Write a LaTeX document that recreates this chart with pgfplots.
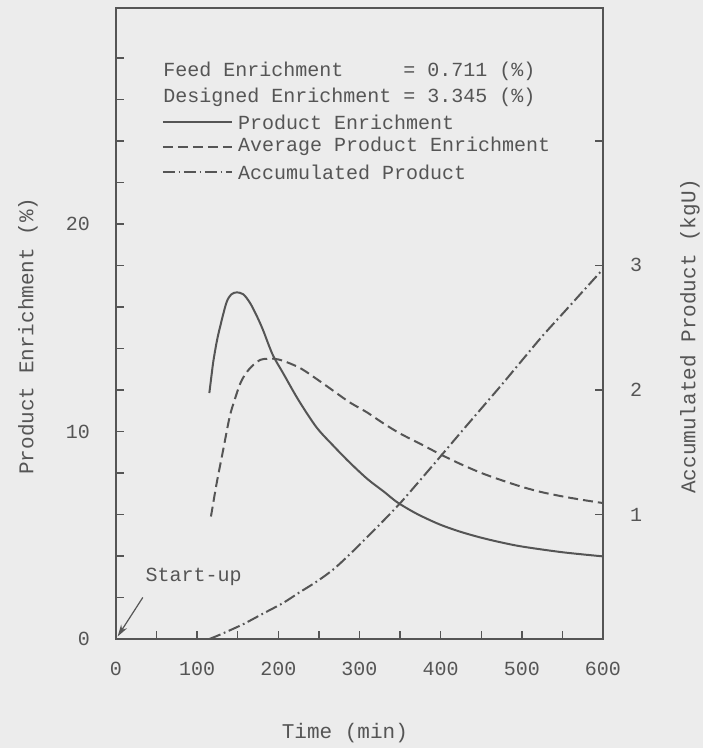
\documentclass[border=0pt]{standalone}
\usepackage{fontspec}
\setmainfont{Liberation Mono}
\usepackage{pgfplots}
\pgfplotsset{compat=1.18}
\usetikzlibrary{backgrounds,arrows.meta}

\definecolor{ink}{RGB}{85,85,85}
\definecolor{paper}{RGB}{236,236,236}

\tikzset{
  prod/.style={ink, line width=1pt},
  avg/.style={ink, line width=1pt, dash pattern=on 5pt off 2.5pt},
  accu/.style={ink, line width=1pt, dash pattern=on 6pt off 1.8pt on 0.9pt off 1.8pt},
}
\pgfplotsset{
  every axis/.append style={
    scale only axis, width=243.5pt, height=315.5pt,
    xmin=0, xmax=600,
    axis line style={ink, line width=0.8pt},
    every tick/.style={ink, line width=0.7pt},
    tick align=inside,
    major tick length=4pt, minor tick length=4pt,
    /pgf/number format/assume math mode=true,
    ticklabel style={font=\fontsize{10}{12}\selectfont, text=ink},
    label style={font=\fontsize{10.5}{12}\selectfont, text=ink},
  },
}

\begin{document}
\begin{tikzpicture}[font=\fontsize{10}{12}\selectfont, text=ink]

\begin{axis}[
    ymin=0, ymax=30.4,
    xtick={0,100,...,600}, minor xtick={50,150,...,550},
    ytick={0,10,20}, minor ytick={2,4,...,28},
    xtick pos=bottom, ytick pos=left,
    yticklabel style={xshift=-9.5pt},
    xticklabel style={yshift=-8pt},
    xlabel={Time (min)},
    ylabel={Product Enrichment (\%)},
    xlabel style={at={(axis description cs:0.47,-0.149)}, anchor=center},
    ylabel style={at={(axis description cs:-0.181,0.48)}, anchor=center},
]
\coordinate (sw) at (rel axis cs:0,0);
\coordinate (ne) at (rel axis cs:1,1);

% product enrichment
\addplot[prod, smooth, tension=0.5] coordinates {
  (115,11.85) (118,12.8) (120,13.4) (124,14.3) (128,15.0) (136,16.2)
  (142,16.6) (149,16.7) (157,16.6) (165,16.2) (173,15.6) (181,14.9)
  (193,13.7) (206,12.8) (225,11.5) (247,10.2) (268,9.3) (288,8.5)
  (310,7.7) (330,7.1) (346,6.6) (365,6.15) (380,5.85) (400,5.5)
  (424,5.17) (450,4.88) (475,4.65) (501,4.45) (550,4.18) (600,3.98)
};
% average product enrichment
\addplot[avg, smooth, tension=0.5] coordinates {
  (117,5.9) (124,7.5) (132,9.1) (140,10.7) (146,11.5) (153,12.3)
  (160,12.8) (169,13.2) (178,13.45) (186,13.5) (195,13.5) (206,13.4)
  (227,13.05) (250,12.45) (268,11.95) (288,11.4) (310,10.9) (329,10.4)
  (350,9.9) (375,9.4) (401,8.87) (425,8.42) (450,8.0) (475,7.65)
  (501,7.32) (525,7.07) (550,6.87) (575,6.7) (600,6.55)
};

% legend block
\node[anchor=west, inner sep=0pt] at (rel axis cs:0.0965,0.899) {Feed Enrichment\ \ \ \ \ = 0.711 (\%)};
\node[anchor=west, inner sep=0pt] at (rel axis cs:0.0965,0.859) {Designed Enrichment = 3.345 (\%)};
\draw[prod] (rel axis cs:0.0965,0.819) -- (rel axis cs:0.238,0.819);
\node[anchor=west, inner sep=0pt] at (rel axis cs:0.25,0.819) {Product Enrichment};
\draw[avg] (rel axis cs:0.0965,0.780) -- (rel axis cs:0.238,0.780);
\node[anchor=west, inner sep=0pt] at (rel axis cs:0.25,0.780) {Average Product Enrichment};
\draw[accu] (rel axis cs:0.0965,0.740) -- (rel axis cs:0.238,0.740);
\node[anchor=west, inner sep=0pt] at (rel axis cs:0.25,0.740) {Accumulated Product};

% start-up annotation
\node[anchor=west, inner sep=0pt] at (axis cs:36,3.0) {Start-up};
\draw[ink, line width=0.6pt, -{Stealth[length=6pt,width=3.5pt]}] (axis cs:33,2.0) -- (axis cs:2,0.12);
\end{axis}

\begin{axis}[
    ymin=0, ymax=5.0667,
    axis y line*=right, axis x line=none,
    ytick={1,2,3,4}, yticklabels={1,2,3,{}},
    yticklabel style={xshift=10pt},
    ylabel={Accumulated Product (kgU)},
    ylabel style={at={(axis description cs:1.1786,0.48)}, anchor=center},
]
% accumulated product
\addplot[accu, smooth, tension=0.5] coordinates {
  (115,0.0) (130,0.04) (157,0.12) (180,0.2) (206,0.29) (225,0.37)
  (247,0.46) (268,0.56) (288,0.68) (305,0.79) (325,0.92) (350,1.09)
  (374,1.27) (399,1.46) (425,1.66) (450,1.85) (475,2.04) (498,2.22)
  (525,2.43) (550,2.61) (575,2.79) (600,2.97)
};
\end{axis}

\pgfresetboundingbox
\begin{pgfonlayer}{background}
\fill[paper] ([shift={(-58pt,-54.5pt)}]sw) rectangle ([shift={(50pt,4pt)}]ne);
\end{pgfonlayer}
\end{tikzpicture}
\end{document}
